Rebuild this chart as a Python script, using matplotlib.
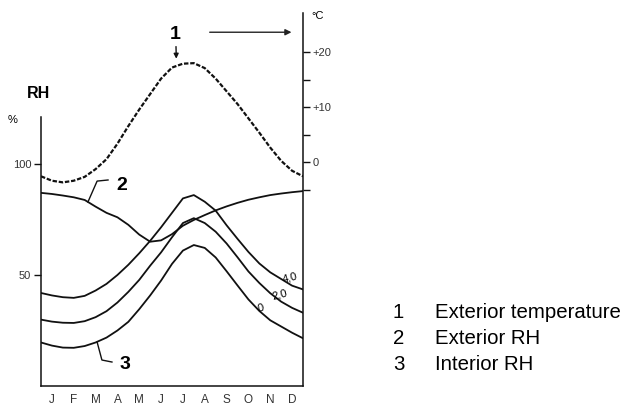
import matplotlib.pyplot as plt

plt.rcParams['font.family'] = ['Liberation Sans', 'DejaVu Sans']

months = ['J', 'F', 'M', 'A', 'M', 'J', 'J', 'A', 'S', 'O', 'N', 'D']

# half-month positions, 0 = start of January, 12 = end of December
xpos = [0, 0.5, 1, 1.5, 2, 2.5, 3, 3.5, 4, 4.5, 5, 5.5, 6,
        6.5, 7, 7.5, 8, 8.5, 9, 9.5, 10, 10.5, 11, 11.5, 12]

# 1 exterior temperature (deg C, right axis)
t_ext = [-2.5, -3.3, -3.6, -3.3, -2.6, -1.2, 0.6, 3.4, 6.6, 9.6, 12.4, 15.2, 17.2,
         17.9, 18.0, 17.1, 15.2, 12.9, 10.6, 8.0, 5.4, 2.7, 0.3, -1.5, -2.5]

# 2 exterior RH (%)
rh_ext = [87.0, 86.5, 85.8, 85.0, 83.8, 80.8, 78.0, 76.0, 72.6, 68.2, 65.0, 65.6, 68.4,
          72.2, 74.8, 77.0, 79.1, 80.9, 82.5, 83.9, 85.0, 86.0, 86.7, 87.3, 87.8]

# 3 interior RH (%) for the three curves 4,0 / 2,0 / 0
rh_in_40 = [41.9, 40.8, 40.0, 39.7, 40.6, 43.0, 46.0, 50.0, 54.6, 59.8, 65.4, 71.5, 78.0,
            84.5, 86.0, 83.0, 79.0, 72.4, 66.3, 60.4, 55.2, 51.2, 48.2, 45.2, 43.5]
rh_in_20 = [29.9, 29.0, 28.5, 28.4, 29.2, 31.0, 33.7, 37.6, 42.4, 47.8, 54.2, 60.2, 67.0,
            73.4, 75.6, 73.4, 69.5, 64.2, 58.0, 51.6, 46.4, 41.8, 38.0, 35.2, 33.0]
rh_in_0 = [19.6, 18.2, 17.3, 17.2, 18.0, 19.6, 21.8, 25.0, 28.9, 34.6, 40.8, 47.5, 55.0,
           61.0, 63.5, 62.2, 57.9, 51.7, 45.3, 39.0, 33.8, 29.6, 26.8, 24.0, 21.5]

legend_nums = ['1', '2', '3']
legend_txt = ['Exterior temperature', 'Exterior RH', 'Interior RH']

W, H = 626, 407
ink = '#111111'
fig = plt.figure(figsize=(W / 100, H / 100), dpi=100)
ax = fig.add_axes([41 / W, 21 / H, 262 / W, 373 / H])
ax.set_xlim(0, 12)
ax.set_ylim(0, 373 / 2.22)
ax2 = ax.twinx()
ax2.set_ylim(-(386 - 162.5) / 5.52, (162.5 - 13) / 5.52)

# curves
for rh in (rh_ext, rh_in_40, rh_in_20, rh_in_0):
    ax.plot(xpos, rh, color=ink, lw=1.3, solid_joinstyle='round')
ax2.plot(xpos, t_ext, color=ink, lw=1.6, ls=(0, (2, 0.8)))

# spines
ax.spines['top'].set_visible(False)
ax.spines['right'].set_visible(False)
ax.spines['left'].set_bounds(0, 121)
for s in ('left', 'top', 'bottom'):
    ax2.spines[s].set_visible(False)
for sp in list(ax.spines.values()) + list(ax2.spines.values()):
    sp.set_linewidth(1.1)
    sp.set_color(ink)

# ticks
ax.set_xticks([i + 0.5 for i in range(12)])
ax.set_xticklabels(months, fontsize=8.5, color='#333333')
ax.tick_params(axis='x', length=0, pad=6)
ax.set_yticks([50, 100])
ax.set_yticklabels(['50', '100'], fontsize=8, color='#333333')
ax.tick_params(axis='y', length=5, width=1, pad=2, color=ink)
ax2.set_yticks([0, 10, 20])
ax2.set_yticklabels(['0', '+10', '+20'], fontsize=8, color='#333333')
ax2.set_yticks([-5, 5, 15], minor=True)
ax2.tick_params(axis='y', which='both', length=5, width=1, pad=2, color=ink)

# curve labels for interior RH
ax.text(11.4, 49.0, '4,0', fontsize=8, rotation=15, ha='center', va='center')
ax.text(10.95, 41.2, '2,0', fontsize=8, rotation=15, ha='center', va='center')
ax.text(10.05, 35.0, '0', fontsize=8, rotation=15, ha='center', va='center')

# label 1 with arrows
ax2.text(6.14, 23.1, '1', fontsize=14, fontweight='bold', ha='center', va='center')
ax2.annotate('', xy=(6.2, 18.3), xytext=(6.18, 21.5),
             arrowprops=dict(arrowstyle='-|>', color=ink, lw=1, mutation_scale=7))
ax2.annotate('', xy=(11.6, 23.6), xytext=(7.6, 23.6),
             arrowprops=dict(arrowstyle='-|>', color='#222222', lw=1, mutation_scale=9))

# label 2 leader
ax.plot([2.15, 2.57, 3.07], [82.9, 92.3, 92.8], color=ink, lw=1)
ax.text(3.71, 90.5, '2', fontsize=14, fontweight='bold', ha='center', va='center')

# label 3 leader
ax.plot([2.57, 2.79, 3.25], [19.8, 11.7, 10.8], color=ink, lw=1)
ax.text(3.85, 9.9, '3', fontsize=14, fontweight='bold', ha='center', va='center')

# axis captions
fig.text(38.5 / W, 1 - 94 / H, 'RH', fontsize=11.5, fontweight='bold', ha='center', va='center')
fig.text(12.5 / W, 1 - 120 / H, '%', fontsize=8, ha='center', va='center')
fig.text(318 / W, 1 - 16 / H, '°C', fontsize=8, ha='center', va='center')

# legend text on the right
for i in range(3):
    yy = 1 - (313 + 26 * i) / H
    fig.text(393 / W, yy, legend_nums[i], fontsize=14.7, ha='left', va='center')
    fig.text(435 / W, yy, legend_txt[i], fontsize=14.7, ha='left', va='center')

fig.savefig('out.png', dpi=100)
